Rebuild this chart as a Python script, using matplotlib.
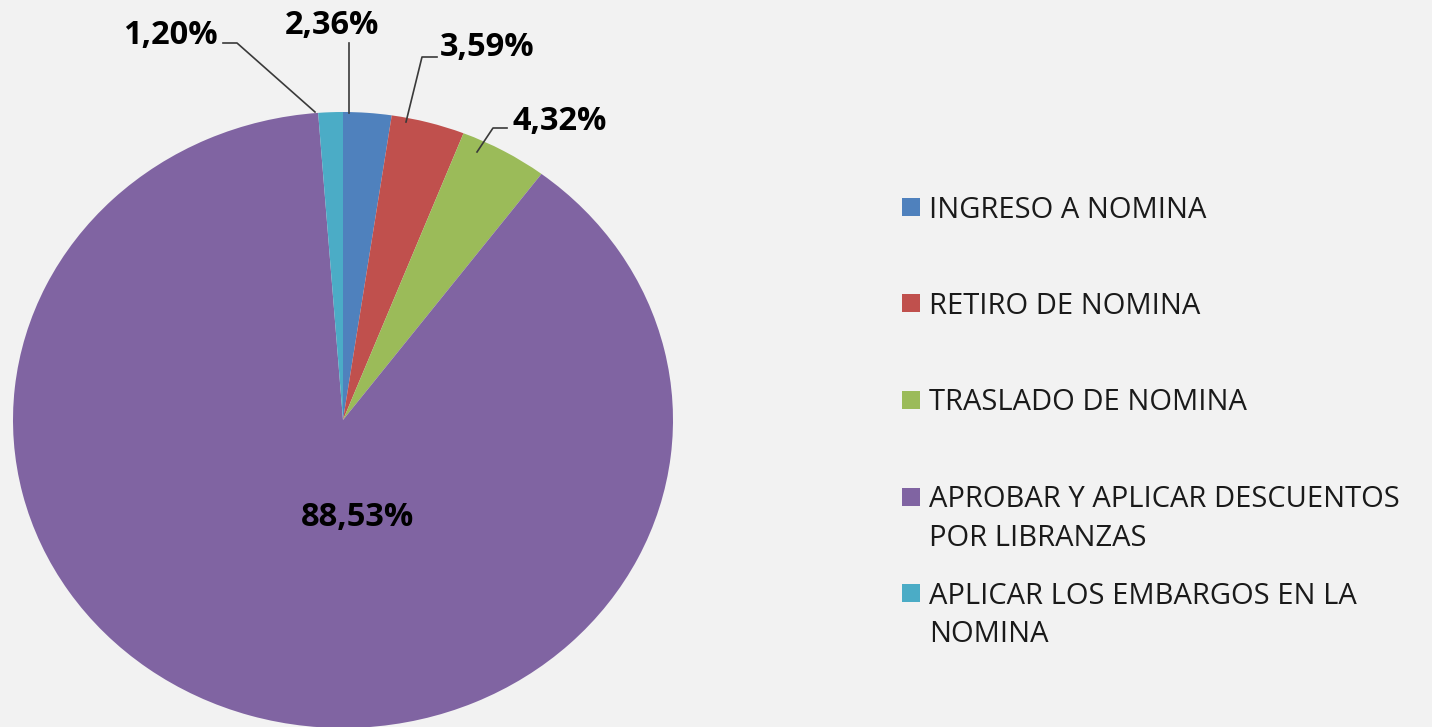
import matplotlib
matplotlib.use("Agg")
import matplotlib.pyplot as plt
import numpy as np
from matplotlib.patches import Rectangle

categories = ["INGRESO A NOMINA", "RETIRO DE NOMINA", "TRASLADO DE NOMINA",
              "APROBAR Y APLICAR DESCUENTOS\nPOR LIBRANZAS",
              "APLICAR LOS EMBARGOS EN LA\nNOMINA"]
values = [2.36, 3.59, 4.32, 88.53, 1.20]
value_labels = ["2,36%", "3,59%", "4,32%", "88,53%", "1,20%"]
colors = ["#4F81BD", "#C0504D", "#9BBB59", "#8064A2", "#4BACC6"]

W, H = 1432, 727
bg = "#F2F2F2"
fig = plt.figure(figsize=(W / 100, H / 100), dpi=100, facecolor=bg)

# pie axes (elliptical, as in the reference)
cx, cy, rx, ry = 343, 420, 330, 308
ax = fig.add_axes([(cx - rx) / W, (H - (cy + ry)) / H, 2 * rx / W, 2 * ry / H])
ax.set_facecolor(bg)
wedges, _ = ax.pie(values, colors=colors, startangle=90, counterclock=False,
                   radius=1.0, wedgeprops=dict(linewidth=0))
ax.set_aspect("auto")
ax.set_xlim(-1, 1)
ax.set_ylim(-1, 1)
ax.set_axis_off()

def px(x, y):
    return ((x - cx) / rx, (cy - y) / ry)

lab_font = dict(fontfamily="Open Sans", fontweight="bold", fontsize=23.5, color="#000000")

# label layout: text centre, leader polyline (pixel positions)
layout = {
    0: ((332, 25), [(349, 43), (349, 113)]),
    1: ((487, 48), [(437, 57), (422, 57), (406, 122)]),
    2: ((560, 121), [(507, 128), (493, 128), (477, 152)]),
    3: ((358, 518), []),
    4: ((170, 35), [(223, 43), (237, 43), (315, 112)]),
}
for i, lab in enumerate(value_labels):
    (tx, ty), line = layout[i]
    x, y = px(tx, ty)
    ax.text(x, y, lab, ha="center", va="center", clip_on=False, **lab_font)
    if line:
        pts = np.array([px(a, b) for a, b in line])
        ax.plot(pts[:, 0], pts[:, 1], color="#3a3a3a", lw=1.2, clip_on=False)

# legend
leg_font = dict(fontfamily="Open Sans", fontsize=21, color="#1a1a1a")
y0, step = 207, 96.5
for i, (cat, col) in enumerate(zip(categories, colors)):
    yc = y0 + i * step
    fig.patches.append(Rectangle((902 / W, (H - yc - 9) / H), 18 / W, 18 / H,
                                 transform=fig.transFigure, facecolor=col,
                                 edgecolor="none"))
    for j, ln in enumerate(cat.split("\n")):
        fig.text(929 / W, (H - (yc + 3 + j * 38.5)) / H, ln, ha="left",
                 va="center", **leg_font)

fig.savefig("out.png", dpi=100, facecolor=bg)
